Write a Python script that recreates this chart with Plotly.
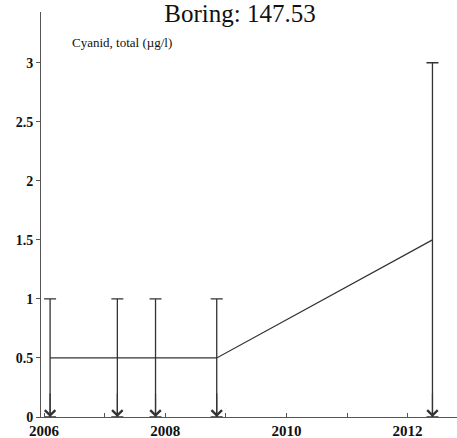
import plotly.graph_objects as go

# Data
years = [2006.10, 2007.21, 2007.84, 2008.85, 2012.41]
values = [0.5, 0.5, 0.5, 0.5, 1.5]
upper = [1.0, 1.0, 1.0, 1.0, 3.0]   # top of error bar
lower = [0.0, 0.0, 0.0, 0.0, 0.0]   # bottom of error bar (arrow)

err_plus = [u - v for u, v in zip(upper, values)]
err_minus = [v - l for v, l in zip(values, lower)]

line_col = "#333333"
serif = "Liberation Serif, Times New Roman, serif"

fig = go.Figure()
fig.add_trace(go.Scatter(
    x=years, y=values, mode="lines",
    line=dict(color=line_col, width=1.2),
    error_y=dict(type="data", symmetric=False, array=err_plus, arrayminus=err_minus,
                 color=line_col, thickness=1.3, width=6),
    hoverinfo="skip", showlegend=False,
))

for xv, lv in zip(years, lower):
    fig.add_annotation(x=xv, y=lv, xref="x", yref="y", text="",
                       showarrow=True, arrowhead=4, arrowsize=1.7, arrowwidth=1.2,
                       arrowcolor=line_col, ax=0, ay=-25, standoff=0)

fig.add_annotation(text="Cyanid, total (µg/l)", xref="paper", yref="paper",
                   x=(70 - 41) / 416, y=(417 - 43) / 405, xanchor="left", yanchor="middle",
                   showarrow=False, font=dict(family=serif, size=13, color="#111"))

fig.update_layout(
    width=457, height=438,
    margin=dict(l=41, r=0, t=12, b=21),
    paper_bgcolor="white", plot_bgcolor="white",
    title=dict(text="Boring: 147.53", x=240/457, xref="container", xanchor="center",
               y=1 - 13/438, yref="container", yanchor="middle",
               font=dict(family=serif, size=25, color="#111")),
)
fig.update_xaxes(range=[2005.95, 2012.815], showgrid=False, zeroline=False,
                 showline=True, linecolor="#555", linewidth=1,
                 tick0=2006, dtick=2, ticks="inside", ticklen=4, tickcolor="#555",
                 minor=dict(dtick=1, ticks="inside", ticklen=4, tickcolor="#555"),
                 tickfont=dict(family=serif, size=15, color="#111", weight="bold"))
fig.update_yaxes(range=[0, 3.43], showgrid=False, zeroline=False,
                 showline=True, linecolor="#555", linewidth=1,
                 tick0=0, dtick=0.5, ticks="outside", ticklen=4, tickcolor="#555",
                 tickfont=dict(family=serif, size=14, color="#111", weight="bold"))

fig.write_html("out.html", config={"displayModeBar": False},
               post_script="document.body.style.margin='0';")
